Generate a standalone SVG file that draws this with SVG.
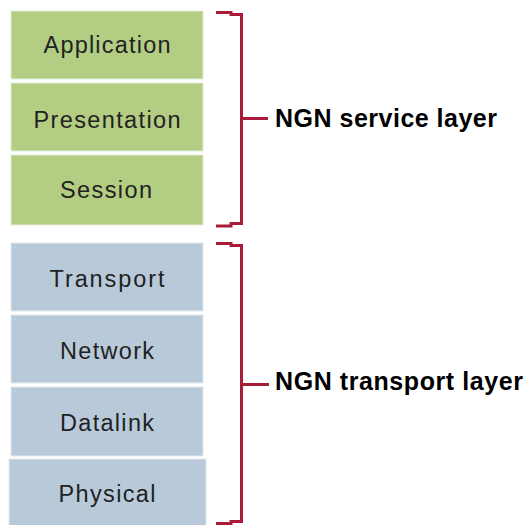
<svg xmlns="http://www.w3.org/2000/svg" width="528" height="525" viewBox="0 0 528 525">
  <style>
    .svc rect { fill: #b3cd83; stroke: #e4eed6; stroke-width: 1; }
    .trn rect { fill: #b8cad9; stroke: #e2e9f0; stroke-width: 1; }
    .lbl { font-family: "Liberation Sans", Arial, sans-serif; font-size: 23.5px; fill: #222222; text-anchor: middle; }
    .brace { fill: none; stroke: #a81c3a; stroke-width: 3; stroke-linejoin: miter; }
    .cap { font-family: "Liberation Sans", Arial, sans-serif; font-size: 25px; font-weight: bold; fill: #000000; }
  </style>
  <rect x="0" y="0" width="528" height="525" fill="#ffffff"/>

  <!-- service stack -->
  <g id="application" class="svc">
    <rect x="11" y="11" width="192" height="68"/>
    <text class="lbl" x="107" y="53" textLength="127">Application</text>
  </g>
  <g id="presentation" class="svc">
    <rect x="11" y="83" width="192" height="68"/>
    <text class="lbl" x="107" y="128" textLength="147">Presentation</text>
  </g>
  <g id="session" class="svc">
    <rect x="11" y="155" width="192" height="70"/>
    <text class="lbl" x="106" y="198" textLength="92">Session</text>
  </g>

  <!-- transport stack -->
  <g id="transport" class="trn">
    <rect x="11" y="243" width="192" height="68"/>
    <text class="lbl" x="107" y="287" textLength="115">Transport</text>
  </g>
  <g id="network" class="trn">
    <rect x="11" y="315" width="192" height="68"/>
    <text class="lbl" x="107" y="359" textLength="94">Network</text>
  </g>
  <g id="datalink" class="trn">
    <rect x="11" y="387" width="192" height="69"/>
    <text class="lbl" x="107" y="431" textLength="94">Datalink</text>
  </g>
  <g id="physical" class="trn">
    <rect x="9" y="459" width="197" height="70"/>
    <text class="lbl" x="107" y="502" textLength="97">Physical</text>
  </g>

  <!-- braces -->
  <g id="connectors">
    <path class="brace" d="M216,12.5 H231 V14.5 H241.5 V223.5 H231 V226 H216"/>
    <path class="brace" d="M241.5,118.5 H268"/>
    <path class="brace" d="M216,243.5 H231 V245.5 H241.5 V521.5 H231 V523.5 H216"/>
    <path class="brace" d="M241.5,384.5 H269"/>
  </g>

  <g id="service-layer">
    <text class="cap" x="275" y="127" textLength="222">NGN service layer</text>
  </g>
  <g id="transport-layer">
    <text class="cap" x="275" y="390" textLength="248">NGN transport layer</text>
  </g>
</svg>
